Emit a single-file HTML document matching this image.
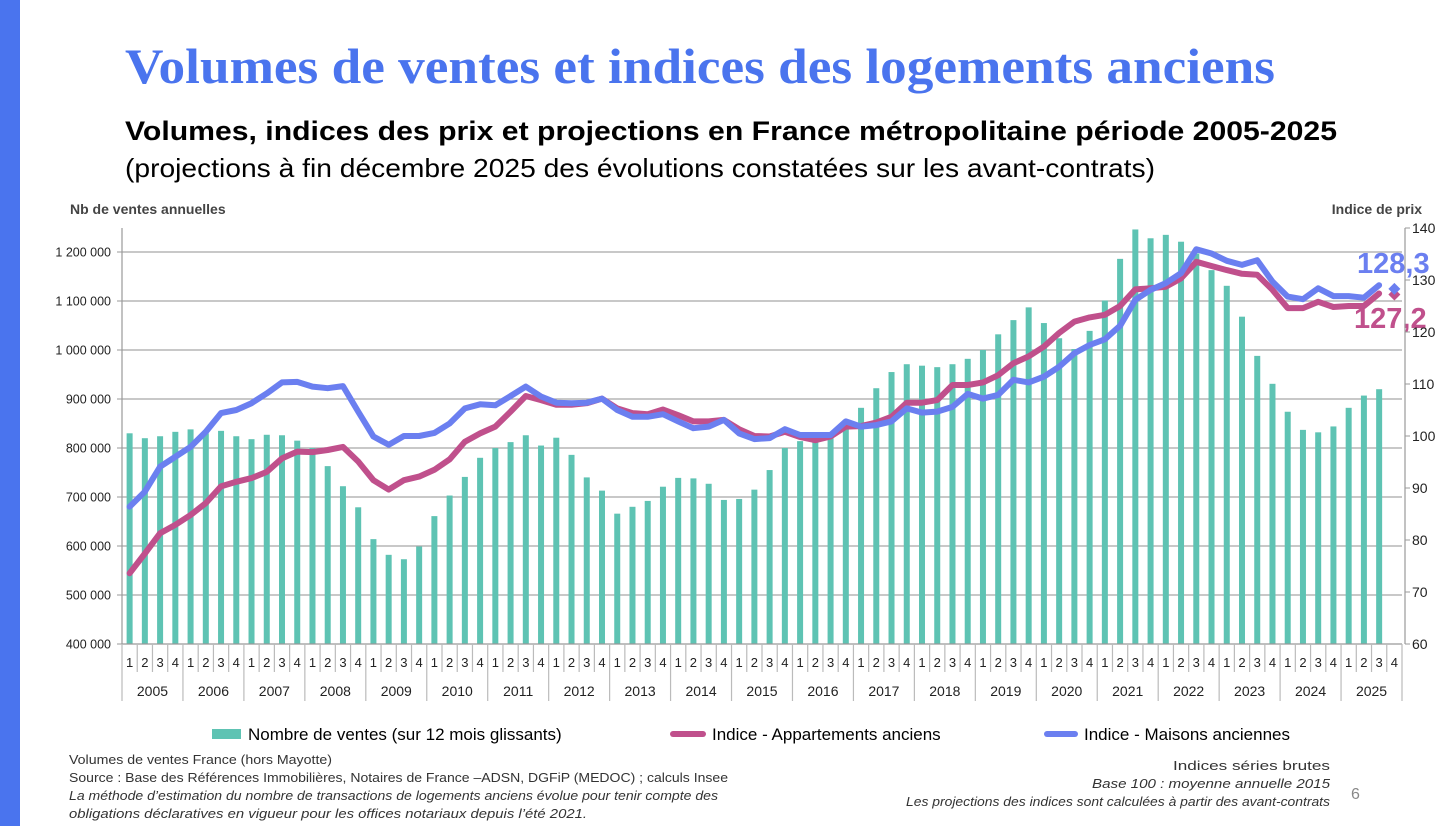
<!DOCTYPE html>
<html><head><meta charset="utf-8"><style>
html,body{margin:0;padding:0;background:#fff;}
svg{display:block;}
</style></head><body>
<svg id="c" width="1456" height="826" viewBox="0 0 1456 826" xmlns="http://www.w3.org/2000/svg" font-family="'Liberation Sans', sans-serif">
<rect x="0" y="0" width="20" height="826" fill="#4a74ee"/>
<text x="125" y="83" font-family="'Liberation Serif', serif" font-weight="bold" font-size="50" fill="#4a74ee" textLength="1150" lengthAdjust="spacingAndGlyphs">Volumes de ventes et indices des logements anciens</text>
<text x="125" y="140" font-weight="bold" font-size="27" fill="#000" textLength="1212" lengthAdjust="spacingAndGlyphs">Volumes, indices des prix et projections en France métropolitaine période 2005-2025</text>
<text x="125" y="177" font-size="26" fill="#000" textLength="1030" lengthAdjust="spacingAndGlyphs">(projections à fin décembre 2025 des évolutions constatées sur les avant-contrats)</text>
<text x="70" y="214" font-weight="bold" font-size="14" fill="#444">Nb de ventes annuelles</text>
<text x="1422" y="214" text-anchor="end" font-weight="bold" font-size="14" fill="#444">Indice de prix</text>
<g id="grid"></g>
<g id="bars"></g>
<g id="lines"></g>
<g id="axes"></g>
<g>
<rect x="212" y="729" width="29" height="10" fill="#5ec3b3"/>
<text x="248" y="740" font-size="17" fill="#000">Nombre de ventes (sur 12 mois glissants)</text>
<line x1="673" y1="734" x2="703" y2="734" stroke="#c0508c" stroke-width="6" stroke-linecap="round"/>
<text x="712" y="740" font-size="17" fill="#000">Indice - Appartements anciens</text>
<line x1="1047" y1="734" x2="1075" y2="734" stroke="#6b7ff0" stroke-width="6" stroke-linecap="round"/>
<text x="1084" y="740" font-size="17" fill="#000">Indice - Maisons anciennes</text>
</g>
<g font-size="13" fill="#333">
<text x="69" y="764" textLength="263" lengthAdjust="spacingAndGlyphs">Volumes de ventes France (hors Mayotte)</text>
<text x="69" y="782" textLength="659" lengthAdjust="spacingAndGlyphs">Source : Base des Références Immobilières, Notaires de France –ADSN, DGFiP (MEDOC) ; calculs Insee</text>
<text x="69" y="800" font-style="italic" textLength="649" lengthAdjust="spacingAndGlyphs">La méthode d’estimation du nombre de transactions de logements anciens évolue pour tenir compte des</text>
<text x="69" y="818" font-style="italic" textLength="518" lengthAdjust="spacingAndGlyphs">obligations déclaratives en vigueur pour les offices notariaux depuis l’été 2021.</text>
</g>
<g font-size="13" fill="#333">
<text x="1173" y="770" textLength="157" lengthAdjust="spacingAndGlyphs">Indices séries brutes</text>
<text x="1092" y="788" font-style="italic" textLength="238" lengthAdjust="spacingAndGlyphs">Base 100 : moyenne annuelle 2015</text>
<text x="906" y="806" font-style="italic" textLength="424" lengthAdjust="spacingAndGlyphs">Les projections des indices sont calculées à partir des avant-contrats</text>
</g>
<text x="1351" y="799" font-size="16" fill="#888">6</text>
</svg>
<script>
const years = [2005,2006,2007,2008,2009,2010,2011,2012,2013,2014,2015,2016,2017,2018,2019,2020,2021,2022,2023,2024,2025];
const quarterLabels = ["1","2","3","4"];
const leftTicks = [400000,500000,600000,700000,800000,900000,1000000,1100000,1200000];
const rightTicks = [60,70,80,90,100,110,120,130,140];
const ventes = [830,820,824,833, 838,830,835,824, 818,827,826,815, 800,763,722,679, 614,582,573,599, 661,703,741,780, 800,812,826,805, 821,786,740,713, 666,680,692,721, 739,738,727,694, 696,715,755,800, 814,820,829,843, 882,922,955,971, 968,965,971,982, 1000,1032,1061,1087, 1055,1024,1002,1039, 1101,1186,1246,1228, 1235,1221,1197,1163, 1131,1068,988,931, 874,837,832,844, 882,907,920];
const appartements = [73.6,77.4,81.3,82.9, 84.8,87.1,90.3,91.2, 91.9,93.1,95.7,97.0, 96.9,97.3,97.9,95.1, 91.5,89.7,91.5,92.2, 93.5,95.5,98.9,100.5, 101.8,104.7,107.7,106.9, 106.0,106.0,106.3,107.2, 105.3,104.4,104.2,105.1, 104.0,102.8,102.8,103.1, 101.3,100.0,99.9,100.8, 99.8,99.2,99.9,101.8, 101.9,102.6,103.7,106.4, 106.4,106.9,109.8,109.8, 110.3,111.7,114.0,115.3, 117.2,119.8,122.0,122.8, 123.3,125.0,128.2,128.4, 128.7,130.3,133.5,132.7, 131.9,131.2,131.0,128.1, 124.6,124.6,125.8,124.8, 125.0,125.0,127.4];
const maisons = [86.4,89.3,94.1,96.0, 97.9,100.8,104.4,105.0, 106.3,108.2,110.3,110.4, 109.5,109.2,109.6,104.7, 99.9,98.3,100.0,100.0, 100.6,102.4,105.3,106.1, 105.9,107.7,109.5,107.6, 106.4,106.3,106.4,107.2, 105.0,103.7,103.7,104.2, 102.8,101.5,101.8,103.1, 100.5,99.4,99.6,101.3, 100.2,100.2,100.2,102.8, 101.8,102.1,102.8,105.3, 104.5,104.7,105.6,108.1, 107.2,107.9,110.8,110.3, 111.4,113.3,115.9,117.5, 118.6,121.2,126.2,128.1, 129.4,131.3,135.9,135.1, 133.7,132.9,133.8,129.7, 126.8,126.3,128.4,126.9, 126.9,126.6,129.0];
const projAppart = 127.2;
const projMaisons = 128.3;
const projLabels = ["127,2","128,3"];

const NS="http://www.w3.org/2000/svg";
const X0=122, X1=1402, NSLOT=years.length*4, SW=(X1-X0)/NSLOT;
function xc(i){return X0+SW*(i+0.5);}
function yl(v){return 644-(v-400000)*0.00049;}
function yr(v){return 644-(v-60)*5.2;}
function mk(tag,attrs,parent){const e=document.createElementNS(NS,tag);for(const k in attrs)e.setAttribute(k,attrs[k]);parent.appendChild(e);return e;}
const grid=document.getElementById('grid'),bars=document.getElementById('bars'),lines=document.getElementById('lines'),axes=document.getElementById('axes');

leftTicks.forEach(t=>{
  const y=yl(t);
  if(t>400000){const g=mk('line',{x1:X0,x2:X1,y1:y,y2:y,stroke:'#a8a8a8','stroke-width':1.2},grid);
  
  }
  const tk=mk('line',{x1:X0-5,x2:X0,y1:y,y2:y,stroke:'#999'},axes);
  
  
  const s=t>=1000000?('1 '+String(t).slice(1,4)+' 000'):(String(t/1000)+' 000');
  const tx=mk('text',{x:X0-11,y:y+4.5,'text-anchor':'end','font-size':12.5,fill:'#222'},axes);tx.textContent=s;
  
  
});
rightTicks.forEach(t=>{
  const y=yr(t);
  const tk=mk('line',{x1:X1+3,x2:X1+8,y1:y,y2:y,stroke:'#999'},axes);
  
  
  const tx=mk('text',{x:X1+10,y:y+5,'font-size':14,fill:'#222'},axes);tx.textContent=String(t);
  
  
});
let a=mk('line',{x1:X0,x2:X0,y1:228,y2:644,stroke:'#999','stroke-width':1.2},axes);


a=mk('line',{x1:X1+3,x2:X1+3,y1:228,y2:644,stroke:'#999','stroke-width':1.2},axes);


a=mk('line',{x1:X0,x2:X1,y1:644,y2:644,stroke:'#999','stroke-width':1.2},axes);



for(let i=0;i<=NSLOT;i++){
  const x=X0+SW*i;
  const sep=mk('line',{x1:x,x2:x,y1:644,y2:(i%4===0)?701:672,stroke:'#bbb','stroke-width':1.2},axes);
  
  
  if(i<NSLOT){
    const q=mk('text',{x:xc(i),y:667,'text-anchor':'middle','font-size':13,fill:'#222'},axes);q.textContent=quarterLabels[i%4];
    
    
  }
}
years.forEach((yv,k)=>{
  const t=mk('text',{x:X0+SW*(k*4+2),y:696,'text-anchor':'middle','font-size':14,fill:'#222'},axes);t.textContent=String(yv);
  
  
});

ventes.forEach((v,i)=>{
  const y=yl(v*1000);
  const r=mk('rect',{x:xc(i)-3,y:y,width:6,height:644-y,fill:'#5ec3b3'},bars);
  
  
});
function line(arr,color,name){
  const p=mk('polyline',{points:arr.map((v,i)=>xc(i).toFixed(1)+','+yr(v).toFixed(1)).join(' '),fill:'none',stroke:color,'stroke-width':6,'stroke-linejoin':'round','stroke-linecap':'round'},lines);
  
  
}
line(appartements,'#c0508c','line-appartements');
line(maisons,'#6b7ff0','line-maisons');
function diamond(v,color,name){
  const x=xc(NSLOT-1),y=yr(v);
  const d=mk('polygon',{points:`${x},${y-6} ${x+6},${y} ${x},${y+6} ${x-6},${y}`,fill:color},lines);
  
  
}
diamond(projAppart,'#c0508c','projection-appartements');
diamond(projMaisons,'#6b7ff0','projection-maisons');
let lb=mk('text',{x:1357,y:273,'font-size':29,'font-weight':'bold',fill:'#6b7ff0'},lines);lb.textContent=projLabels[1];


lb=mk('text',{x:1354,y:328,'font-size':29,'font-weight':'bold',fill:'#c0508c'},lines);lb.textContent=projLabels[0];


</script>
</body></html>
